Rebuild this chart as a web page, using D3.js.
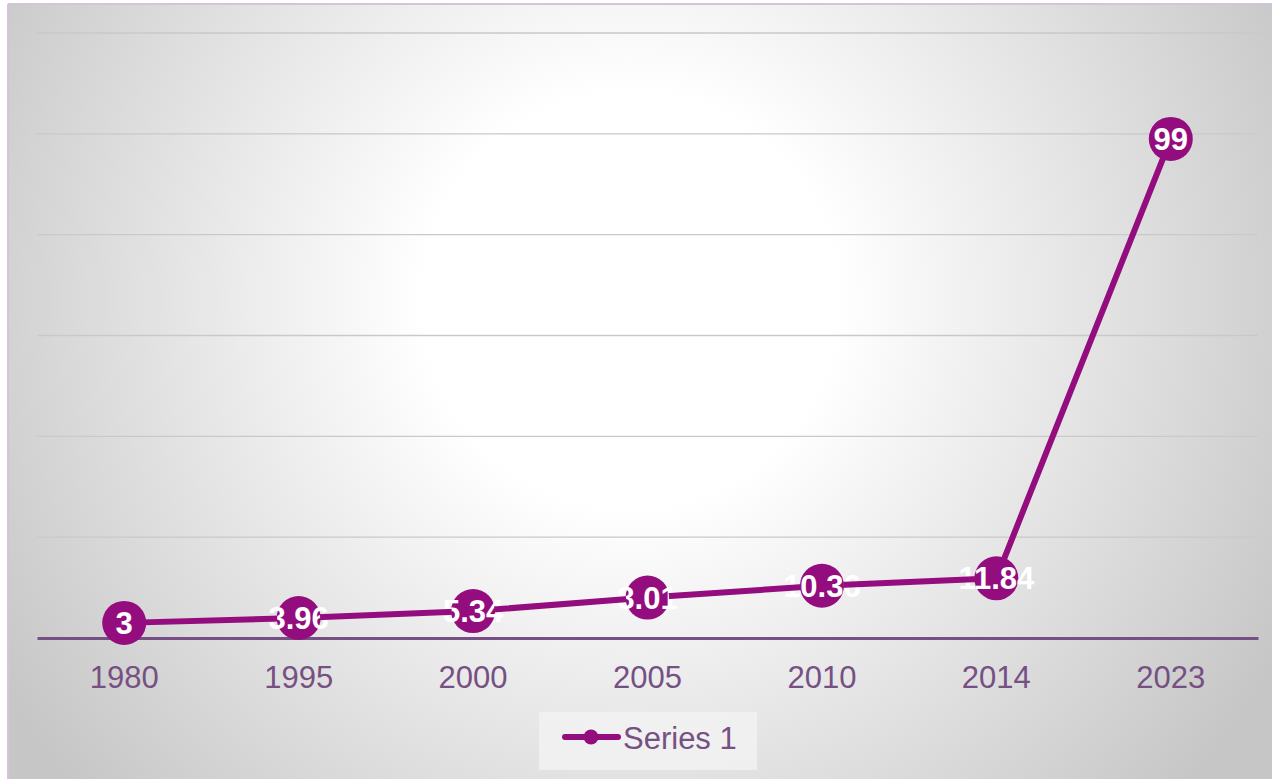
<!DOCTYPE html>
<html>
<head>
<meta charset="utf-8">
<script src="https://cdn.jsdelivr.net/npm/d3@7"></script>
<style>
  html, body { margin: 0; padding: 0; background: #fff; }
  svg { display: block; }
  text { font-family: "Liberation Sans", Arial, sans-serif; }
</style>
</head>
<body>
<svg id="chart" width="1272" height="779"></svg>
<script>
// Series data
const categories = ["1980", "1995", "2000", "2005", "2010", "2014", "2023"];
const values = [3, 3.96, 5.34, 8.01, 10.36, 11.84, 99];
const seriesName = "Series 1";
const yTicks = [0, 20, 40, 60, 80, 100, 120];

const W = 1272, H = 779;
const purple = "#940d7e";
const axisColor = "#765083";

const svg = d3.select("#chart");
const defs = svg.append("defs");

// Radial background: white centre fading to grey edges
const grad = defs.append("radialGradient")
  .attr("id", "bg").attr("gradientUnits", "userSpaceOnUse")
  .attr("cx", 630).attr("cy", 300).attr("r", 740);
grad.append("stop").attr("offset", 0).attr("stop-color", "#ffffff");
grad.append("stop").attr("offset", 0.28).attr("stop-color", "#ffffff");
grad.append("stop").attr("offset", 1).attr("stop-color", "#c6c6c6");

svg.append("rect").attr("x", 8).attr("y", 4).attr("width", W).attr("height", H)
  .attr("fill", "url(#bg)");
svg.append("line").attr("x1", 8).attr("x2", W).attr("y1", 4).attr("y2", 4)
  .attr("stroke", "#d5c3dd").attr("stroke-width", 2);
svg.append("line").attr("x1", 8).attr("x2", 8).attr("y1", 4).attr("y2", H)
  .attr("stroke", "#d5c3dd").attr("stroke-width", 2);

const plot = { left: 37, right: 1258, top: 33, bottom: 638 };

const x = d3.scaleBand().domain(categories).range([plot.left, plot.right]);
const y = d3.scaleLinear().domain([0, 120]).range([plot.bottom, plot.top]);

// Horizontal gridlines
svg.append("g").selectAll("line").data(yTicks.filter(t => t > 0)).join("line")
  .attr("x1", plot.left).attr("x2", plot.right)
  .attr("y1", d => y(d)).attr("y2", d => y(d))
  .attr("stroke", "#c9c9c9").attr("stroke-width", 1.3);

// Category axis
const xAxis = svg.append("g").attr("transform", `translate(0,${plot.bottom})`)
  .call(d3.axisBottom(x).tickSize(0).tickPadding(28));
xAxis.select(".domain").attr("stroke", axisColor).attr("stroke-width", 3);
xAxis.selectAll("text").attr("fill", axisColor).attr("font-size", 31)
  .attr("font-family", "'Liberation Sans', Arial, sans-serif");

const pts = values.map((v, i) => [x(categories[i]) + x.bandwidth() / 2, y(v)]);
const R = 22;

// Markers and their value labels
svg.append("g").selectAll("circle").data(pts).join("circle")
  .attr("cx", d => d[0]).attr("cy", d => d[1]).attr("r", R).attr("fill", purple);

svg.append("g").selectAll("text").data(values).join("text")
  .attr("x", (d, i) => pts[i][0]).attr("y", (d, i) => pts[i][1])
  .attr("dy", "0.36em")
  .attr("text-anchor", "middle")
  .attr("fill", "#ffffff").attr("font-weight", "bold").attr("font-size", 31)
  .text(d => d);

// Connecting line, kept outside the markers so it runs over the labels' edges
const mask = defs.append("mask").attr("id", "outsideMarkers")
  .attr("maskUnits", "userSpaceOnUse")
  .attr("x", 0).attr("y", 0).attr("width", W).attr("height", H);
mask.append("rect").attr("width", W).attr("height", H).attr("fill", "#fff");
mask.selectAll("circle").data(pts).join("circle")
  .attr("cx", d => d[0]).attr("cy", d => d[1]).attr("r", R - 0.5).attr("fill", "#000");

svg.append("path")
  .attr("d", d3.line()(pts))
  .attr("fill", "none").attr("stroke", purple).attr("stroke-width", 6)
  .attr("stroke-linejoin", "round")
  .attr("mask", "url(#outsideMarkers)");

// Legend
const lg = svg.append("g");
lg.append("rect").attr("x", 539).attr("y", 712).attr("width", 218).attr("height", 58)
  .attr("fill", "#f3f3f3").attr("fill-opacity", 0.8);
lg.append("line").attr("x1", 565).attr("x2", 618).attr("y1", 737).attr("y2", 737)
  .attr("stroke", purple).attr("stroke-width", 6).attr("stroke-linecap", "round");
lg.append("circle").attr("cx", 591).attr("cy", 737).attr("r", 7.5).attr("fill", purple);
lg.append("text").attr("x", 623).attr("y", 749)
  .attr("fill", axisColor).attr("font-size", 31).text(seriesName);
</script>
</body>
</html>
